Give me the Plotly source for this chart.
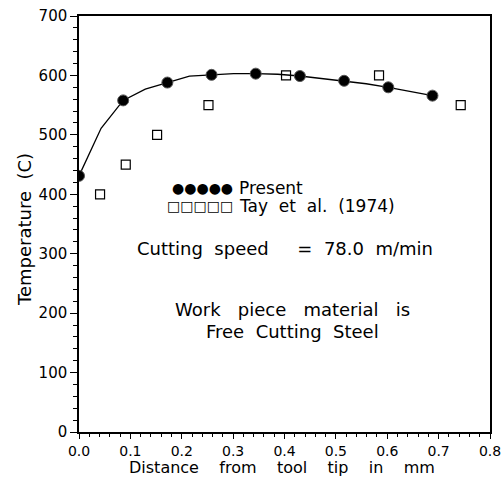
import plotly.graph_objects as go

# Present model: smooth curve and marker points
curve_x = [0.0, 0.043, 0.086, 0.129, 0.172, 0.215, 0.258, 0.301, 0.344, 0.387,
           0.430, 0.473, 0.516, 0.559, 0.602, 0.645, 0.688]
curve_y = [431, 511, 558, 577, 588, 599, 601, 603, 603, 602,
           599, 595, 591, 586, 580, 573, 566]
present_x = [0.0, 0.086, 0.172, 0.258, 0.344, 0.430, 0.516, 0.602, 0.688]
present_y = [431, 558, 588, 601, 603, 599, 591, 580, 566]

# Tay et al. (1974) experimental
tay_x = [0.041, 0.091, 0.152, 0.252, 0.403, 0.584, 0.743]
tay_y = [400, 450, 500, 550, 600, 600, 550]

x_ticks = [0.0, 0.1, 0.2, 0.3, 0.4, 0.5, 0.6, 0.7, 0.8]
x_tick_labels = ["0.0", "0.1", "0.2", "0.3", "0.4", "0.5", "0.6", "0.7", "0.8"]
y_ticks = [0, 100, 200, 300, 400, 500, 600, 700]

FONT = "DejaVu Sans"
S = "\u00a0"

fig = go.Figure()
fig.add_trace(go.Scatter(x=curve_x, y=curve_y, mode="lines",
                         line=dict(color="black", width=1.3), showlegend=False))
fig.add_trace(go.Scatter(x=present_x, y=present_y, mode="markers",
                         marker=dict(symbol="circle", size=11, color="black",
                                     line=dict(color="#555", width=1)),
                         showlegend=False))
fig.add_trace(go.Scatter(x=tay_x, y=tay_y, mode="markers",
                         marker=dict(symbol="square-open", size=9, color="black",
                                     line=dict(color="black", width=1.2)),
                         showlegend=False))

ann_font = dict(family=FONT, size=18, color="black")
leg_font = dict(family=FONT, size=17, color="black")
glyph_font = dict(family=FONT, size=14, color="black")
annotations = [
    dict(x=0.303, y=410, text="●●●●●", xanchor="right", yanchor="middle", font=glyph_font),
    dict(x=0.307, y=410, text="Present", xanchor="left", yanchor="middle", font=leg_font),
    dict(x=0.303, y=381, text="□□□□□", xanchor="right", yanchor="middle", font=glyph_font),
    dict(x=0.307, y=381, text="Tay" + S + " et" + S + " al." + S + " (1974)", xanchor="left",
         yanchor="middle", font=leg_font),
    dict(x=0.40, y=309, text="Cutting" + S + " speed" + S * 4 + " =" + S + " 78.0" + S + " m/min",
         xanchor="center", yanchor="middle", font=ann_font),
    dict(x=0.415, y=206, text="Work" + S * 2 + " piece" + S * 2 + " material" + S * 2 + " is",
         xanchor="center", yanchor="middle", font=ann_font),
    dict(x=0.415, y=169, text="Free" + S + " Cutting" + S + " Steel", xanchor="center",
         yanchor="middle", font=ann_font),
]
for a in annotations:
    a.update(xref="x", yref="y", showarrow=False)

# axis titles as paper-referenced annotations
annotations.append(dict(
    xref="paper", yref="paper", x=0.495, y=-0.112, showarrow=False,
    xanchor="center", yanchor="bottom",
    text="Distance" + S * 3 + " from" + S * 3 + " tool" + S * 3 + " tip" + S * 3 + " in" + S * 3 + " mm",
    font=dict(family=FONT, size=16, color="black")))
annotations.append(dict(
    xref="paper", yref="paper", x=-0.131, y=0.486, showarrow=False,
    xanchor="center", yanchor="middle", textangle=-90,
    text="Temperature" + S + " (C)",
    font=dict(family=FONT, size=18, color="black")))

fig.update_layout(
    width=501, height=479,
    margin=dict(l=79, r=11, t=16, b=47, autoexpand=False),
    paper_bgcolor="white", plot_bgcolor="white",
    annotations=annotations,
    font=dict(family=FONT, color="black"),
)
fig.update_xaxes(
    range=[0, 0.8], tickvals=x_ticks, ticktext=x_tick_labels,
    ticks="outside", ticklen=5, tickwidth=1.2, tickcolor="black",
    minor=dict(dtick=0.02, ticks="outside", ticklen=3, tickcolor="black", tickwidth=1),
    showgrid=False, zeroline=False, showline=True, linecolor="black", linewidth=1.5,
    mirror=True, tickfont=dict(family=FONT, size=14, color="black"),
    ticklabeloverflow="allow", automargin=False,
)
fig.update_yaxes(
    range=[0, 700], tickvals=y_ticks,
    ticks="outside", ticklen=7, tickwidth=1.2, tickcolor="black",
    minor=dict(dtick=20, ticks="outside", ticklen=4, tickcolor="black", tickwidth=1),
    showgrid=False, zeroline=False, showline=True, linecolor="black", linewidth=1.5,
    mirror=True, tickfont=dict(family=FONT, size=15, color="black"),
    ticklabeloverflow="allow", automargin=False,
)

fig.write_html("out.html")
